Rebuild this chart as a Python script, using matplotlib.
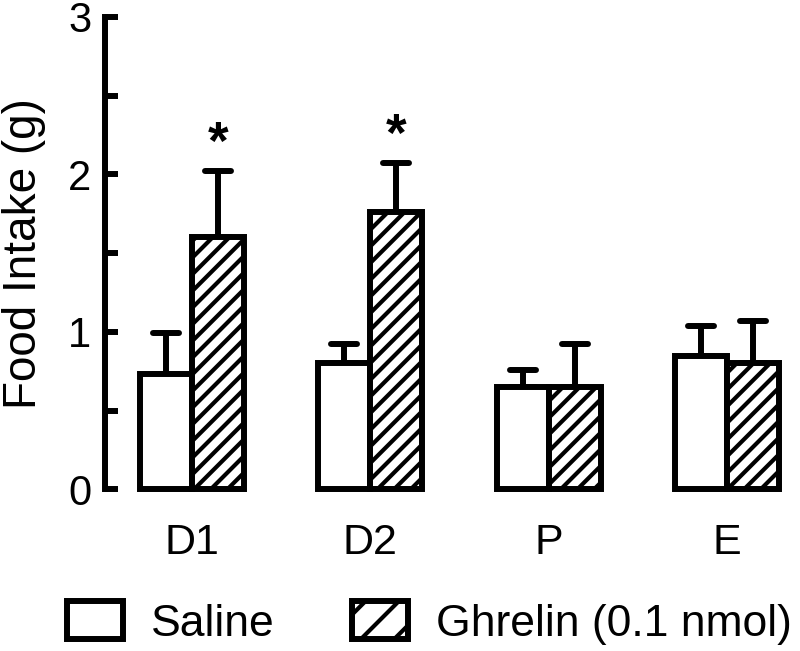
import matplotlib
matplotlib.use("Agg")
import matplotlib.pyplot as plt
import numpy as np
from matplotlib.patches import Patch
from matplotlib.markers import MarkerStyle

plt.rcParams['font.family'] = ['Liberation Sans', 'DejaVu Sans']
plt.rcParams['hatch.linewidth'] = 3.0

categories = ["D1", "D2", "P", "E"]
saline_mean = [0.73, 0.805, 0.65, 0.845]
saline_sem = [0.26, 0.115, 0.11, 0.19]
ghrelin_mean = [1.60, 1.76, 0.65, 0.80]
ghrelin_sem = [0.42, 0.31, 0.27, 0.27]
significant = [True, True, False, False]
series_names = ["Saline", "Ghrelin (0.1 nmol)"]

fig = plt.figure(figsize=(8.0, 6.51), dpi=100)
ax = fig.add_axes([0.13125, 1 - 489.3 / 651, 0.86875, 472.3 / 651])

x = np.arange(len(categories))
w = 0.292
lw = 4.3

b1 = ax.bar(x - w / 2, saline_mean, width=w, facecolor='white', edgecolor='black',
            linewidth=lw, clip_on=False, zorder=3)
b2 = ax.bar(x + w / 2, ghrelin_mean, width=w, facecolor='white', edgecolor='black',
            linewidth=lw, hatch='//', clip_on=False, zorder=3)

for xs, m, e in [(x - w / 2, saline_mean, saline_sem), (x + w / 2, ghrelin_mean, ghrelin_sem)]:
    eb = ax.errorbar(xs, m, yerr=[np.zeros(len(e)), e], fmt='none', ecolor='black',
                     elinewidth=lw, capsize=9.4, capthick=lw, zorder=2, clip_on=False)
    for cap in eb[1]:
        cap.set_marker(MarkerStyle('_', capstyle='round'))
        cap.set_clip_on(False)
    for ln in eb[2]:
        ln.set_clip_on(False)

for i, sig in enumerate(significant):
    if sig:
        top = ghrelin_mean[i] + ghrelin_sem[i]
        ax.text(x[i] + w / 2, top + 0.17, "*", ha='center', va='center',
                fontsize=38, fontweight='bold')

ax.set_xlim(-0.488, 3.41)
ax.set_ylim(0, 3)
ax.set_xticks(x)
ax.set_xticklabels(categories, fontsize=31)
ax.tick_params(axis='x', length=0, pad=24)
ax.set_yticks([0, 1, 2, 3])
ax.set_yticks([0.5, 1.5, 2.5], minor=True)
ax.tick_params(axis='y', which='both', direction='in', length=9, width=lw, labelsize=30, pad=10)

for s in ['top', 'right', 'bottom']:
    ax.spines[s].set_visible(False)
ax.spines['left'].set_linewidth(lw)
ax.spines['left'].set_capstyle('projecting')

ax.set_ylabel("Food Intake (g)", fontsize=33)
ax.yaxis.set_label_coords(-0.0845, 0.5)

handles = [Patch(facecolor='white', edgecolor='black', linewidth=lw),
           Patch(facecolor='white', edgecolor='black', linewidth=lw, hatch='/')]
fig.legend(handles, series_names, loc='center left', bbox_to_anchor=(67 / 800, 1 - 623 / 651),
           ncol=2, frameon=False, fontsize=32, handlelength=1.26, handleheight=0.92,
           handletextpad=0.63, columnspacing=1.73, borderpad=0, borderaxespad=0)

fig.savefig("out.png", dpi=100)
